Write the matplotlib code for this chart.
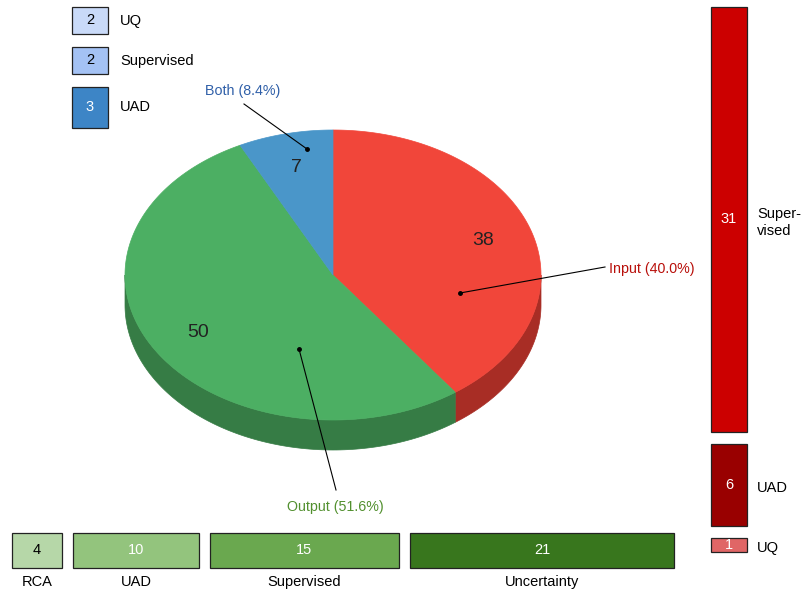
import numpy as np
import matplotlib.pyplot as plt
from matplotlib.patches import Polygon

plt.rcParams['font.family'] = ['Liberation Sans', 'DejaVu Sans']

# pie slices, clockwise from 12 o'clock
slice_names = ['Input', 'Output', 'Both']
slice_counts = [38, 50, 7]
slice_pcts = [40.0, 51.6, 8.4]

# breakdown of each slice
both_labels = ['UQ', 'Supervised', 'UAD']
both_counts = [2, 2, 3]
input_labels = ['Super-\nvised', 'UAD', 'UQ']
input_counts = [31, 6, 1]
output_labels = ['RCA', 'UAD', 'Supervised', 'Uncertainty']
output_counts = [4, 10, 15, 21]

top_colors = ['#f1463a', '#4caf63', '#4a96c9']
side_colors = ['#a82d25', '#367c45', '#2f6e98']
label_colors = ['#b80f0a', '#52902f', '#2f5fa8']
both_colors = ['#c9daf8', '#a4c2f4', '#3d85c6']
both_text = ['black', 'black', 'white']
input_colors = ['#cc0000', '#990000', '#e06666']
output_colors = ['#b6d7a8', '#93c47d', '#6aa84f', '#38761d']
output_text = ['black', 'white', 'white', 'white']

fig = plt.figure(figsize=(8.04, 5.95), dpi=100)
ax = fig.add_axes([0, 0, 1, 1])
ax.set_xlim(0, 804)
ax.set_ylim(595, 0)
ax.axis('off')

# --- tilted pie ---
cx, cy, rx, ry, depth = 333, 275, 208, 145, 30
total = sum(slice_counts)
angles = 90 - 360 * np.cumsum([0] + slice_counts) / total


def ell(t, dy=0.0):
    t = np.radians(t)
    return cx + rx * np.cos(t), cy - ry * np.sin(t) + dy


# side wall (only the front half is visible)
for i in range(len(slice_counts)):
    a_hi, a_lo = angles[i], angles[i + 1]
    for k in (-1, 0):
        lo = max(a_lo, -180 + 360 * k)
        hi = min(a_hi, 360 * k)
        if hi <= lo:
            continue
        t = np.linspace(lo, hi, 120)
        x, y = ell(t)
        xb, yb = ell(t[::-1], depth)
        pts = np.column_stack([np.r_[x, xb], np.r_[y, yb]])
        ax.add_patch(Polygon(pts, closed=True, fc=side_colors[i],
                             ec=side_colors[i], lw=0.5, zorder=1))

# top faces
for i in range(len(slice_counts)):
    a_hi, a_lo = angles[i], angles[i + 1]
    t = np.linspace(a_lo, a_hi, 200)
    x, y = ell(t)
    pts = np.column_stack([np.r_[cx, x], np.r_[cy, y]])
    ax.add_patch(Polygon(pts, closed=True, fc=top_colors[i],
                         ec=top_colors[i], lw=0.5, zorder=2))
    mid = (a_hi + a_lo) / 2
    lx = cx + 0.76 * rx * np.cos(np.radians(mid))
    ly = cy - 0.76 * ry * np.sin(np.radians(mid))
    ax.text(lx, ly, str(slice_counts[i]), ha='center', va='center',
            fontsize=14, color='#222222', zorder=3)

# callouts
anchors = [(460, 293), (299, 349), (307, 149)]
text_pos = [(609, 269), (335, 507), (243, 91)]
line_end = [(605, 267), (336, 490), (244, 104)]
aligns = ['left', 'center', 'center']
for i, name in enumerate(slice_names):
    (x0, y0), (x1, y1) = anchors[i], line_end[i]
    ax.plot([x0, x1], [y0, y1], color='black', lw=0.8, zorder=4)
    ax.plot(x0, y0, 'o', color='black', ms=2.5, zorder=4)
    ax.text(text_pos[i][0], text_pos[i][1], f'{name} ({slice_pcts[i]:.1f}%)',
            ha=aligns[i], va='center', fontsize=10.3, color=label_colors[i])

# --- "Both" breakdown (top left) ---
y = 7
for c, lab, col, tc in zip(both_counts, both_labels, both_colors, both_text):
    h = c * 13.5
    ax.bar(90, h, width=36, bottom=y, color=col, edgecolor='#222222', lw=0.9)
    ax.text(90, y + h / 2, str(c), ha='center', va='center', fontsize=10.5, color=tc)
    ax.text(120, y + h / 2, lab, ha='left', va='center', fontsize=10.5)
    y += h + 13

# --- "Input" breakdown (right) ---
y = 7
for c, lab, col in zip(input_counts, input_labels, input_colors):
    h = c * 13.7
    ax.bar(729, h, width=36, bottom=y, color=col, edgecolor='#222222', lw=0.9)
    ax.text(729, y + h / 2, str(c), ha='center', va='center', fontsize=10.5, color='white')
    ax.text(757, y + h / 2 + 3, lab, ha='left', va='center', fontsize=10.5,
            linespacing=1.25)
    y += h + 12

# --- "Output" breakdown (bottom) ---
x = 12
for c, lab, col, tc in zip(output_counts, output_labels, output_colors, output_text):
    w = c * 12.58
    ax.barh(550, w, height=35, left=x, color=col, edgecolor='#222222', lw=0.9)
    ax.text(x + w / 2, 550, str(c), ha='center', va='center', fontsize=10.5, color=tc)
    ax.text(x + w / 2, 582, lab, ha='center', va='center', fontsize=10.5)
    x += w + 11

fig.savefig('out.png', dpi=100)
